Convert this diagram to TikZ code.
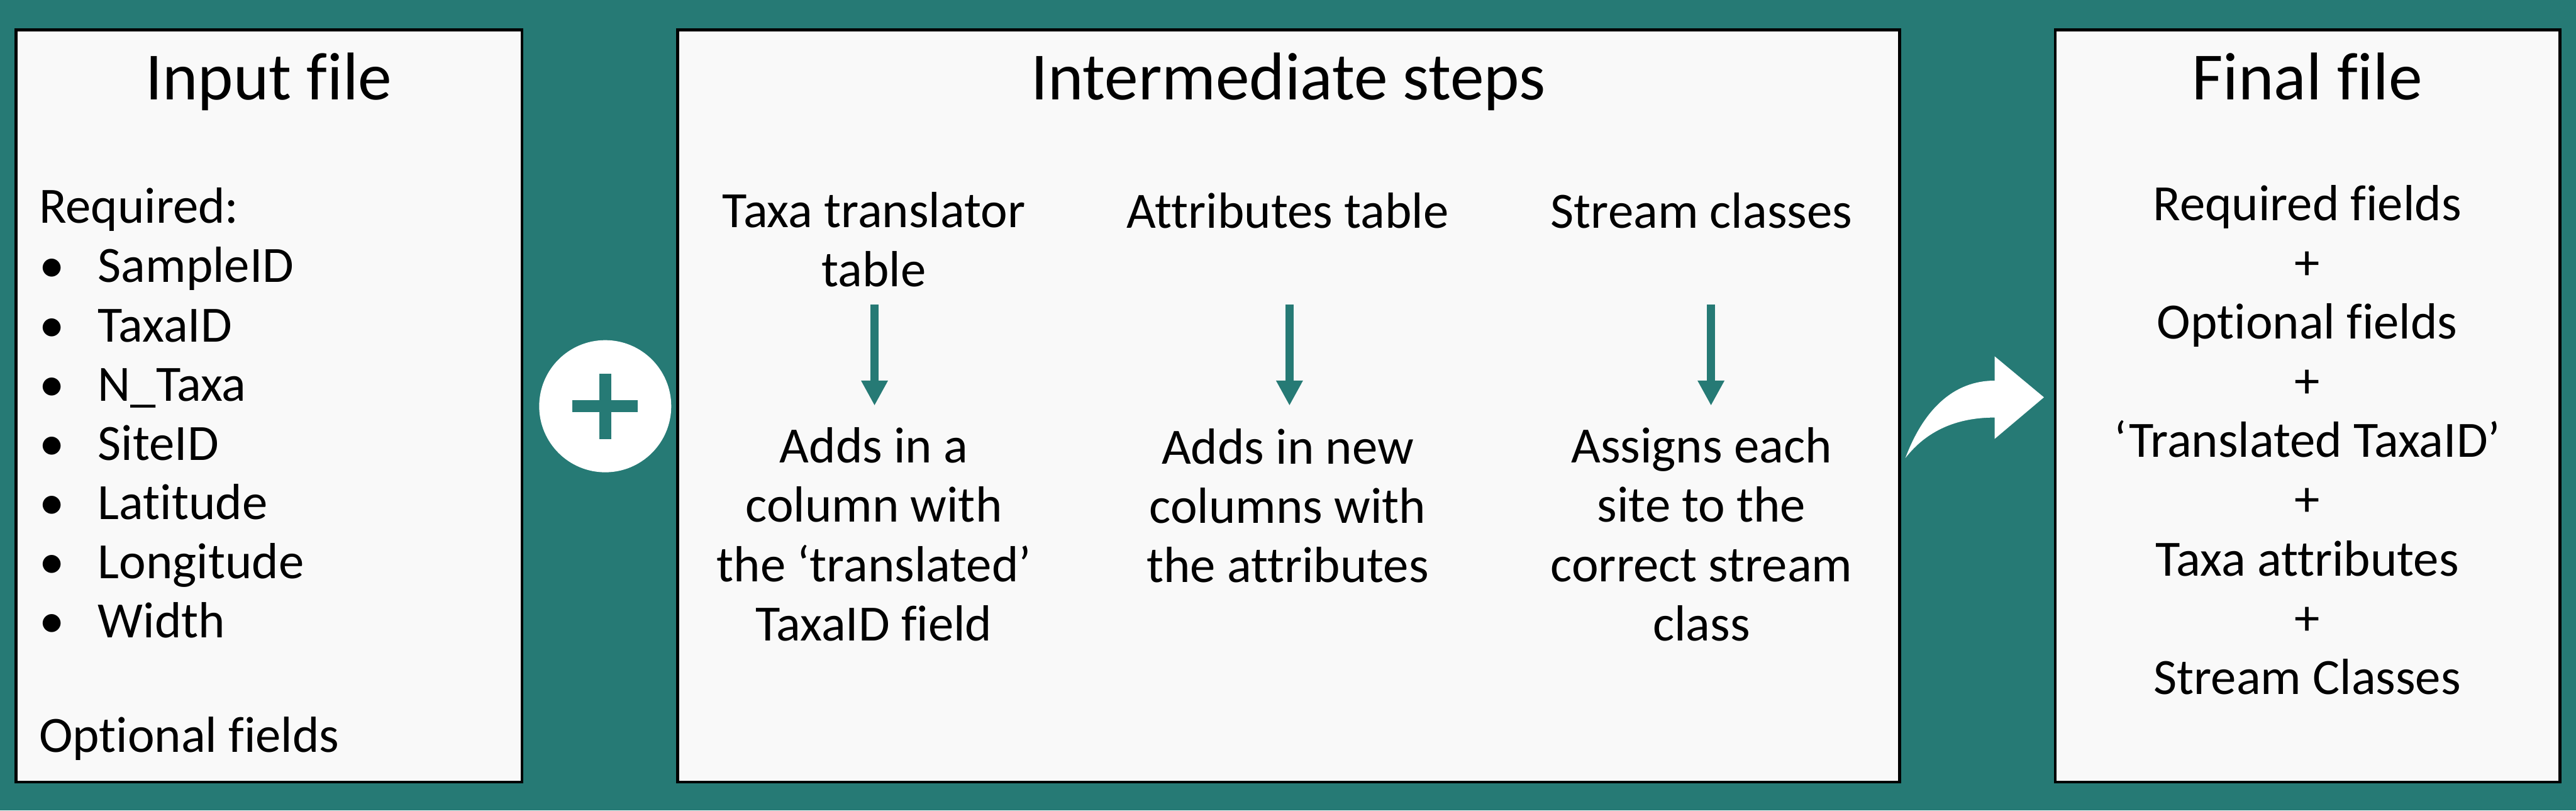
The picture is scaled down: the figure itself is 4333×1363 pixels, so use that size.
\documentclass[tikz,border=0pt]{standalone}
\usepackage{fontspec}
\setmainfont[Ligatures=NoCommon]{Carlito}
\usetikzlibrary{arrows.meta}

\definecolor{petrol}{RGB}{38,122,117}
\definecolor{paper}{RGB}{249,249,249}

\tikzstyle{panel} = [draw=black, line width=1.4pt, fill=paper]
\tikzstyle{head} = [inner sep=0pt, anchor=base, font=\fontsize{32.3pt}{38pt}\selectfont]
\tikzstyle{body} = [inner sep=0pt, anchor=base, align=center, font=\fontsize{24.3pt}{28.3pt}\selectfont]
\tikzstyle{down} = [petrol, line width=0.14cm, -{Triangle[length=0.42cm, width=0.42cm]}]

\newcommand{\bul}{\makebox[0.99cm][l]{\textbullet}}

\begin{document}
\begin{tikzpicture}[x=0.01cm, y=-0.01cm]
\useasboundingbox (0,0) rectangle (4333,1363);
\fill[petrol] (0,0) rectangle (4333,1363);

% the three panels
\draw[panel] (27,50) rectangle (878,1315);
\draw[panel] (1140,50) rectangle (3195,1315);
\draw[panel] (3457,50) rectangle (4306,1315);

\node[head] (input) at (452,168) {Input file};
\node[head] (steps) at (2167,168) {Intermediate steps};
\node[head] (final) at (3881,168) {Final file};

% multi-line nodes sit on the baseline of their last line
\node[body, align=left, anchor=base west] (required) at (65,1072) {Required:\\
    \bul SampleID\\
    \bul TaxaID\\
    \bul N\_Taxa\\
    \bul SiteID\\
    \bul Latitude\\
    \bul Longitude\\
    \bul Width};
\node[body, anchor=base west] (optional) at (65,1265) {Optional fields};

% plus sign
\node[circle, fill=white, minimum size=2.22cm, inner sep=0pt] (plus) at (1018,683) {};
\fill[petrol] (963,673) rectangle (1073,693);
\fill[petrol] (1008,628) rectangle (1028,738);

% intermediate steps
\node[body] (taxa) at (1470,482) {Taxa translator\\table};
\node[body] (attr) at (2166,383) {Attributes table};
\node[body] (stream) at (2862,383) {Stream classes};

\coordinate (taxa s) at (1471,512);
\coordinate (taxa e) at (1471,682);
\coordinate (attr s) at (2169,512);
\coordinate (attr e) at (2169,682);
\coordinate (stream s) at (2878,512);
\coordinate (stream e) at (2878,682);
\draw[down] (taxa s) -- (taxa e);
\draw[down] (attr s) -- (attr e);
\draw[down] (stream s) -- (stream e);

\node[body] (adds) at (1470,1077) {Adds in a\\column with\\the ‘translated’\\TaxaID field};
\node[body] (newcols) at (2166,979) {Adds in new\\columns with\\the attributes};
\node[body] (assigns) at (2862,1077) {Assigns each\\site to the\\correct stream\\class};

% curved arrow
\fill[white] (3205,770) .. controls (3235,690) and (3285,640) .. (3355,640)
    -- (3355,599) -- (3438,668) -- (3355,738) -- (3355,702)
    .. controls (3290,702) and (3240,725) .. cycle;

\node[body] (result) at (3881,1167) {Required fields\\+\\Optional fields\\+\\‘Translated TaxaID’\\+\\Taxa attributes\\+\\Stream Classes};
\end{tikzpicture}
\end{document}
